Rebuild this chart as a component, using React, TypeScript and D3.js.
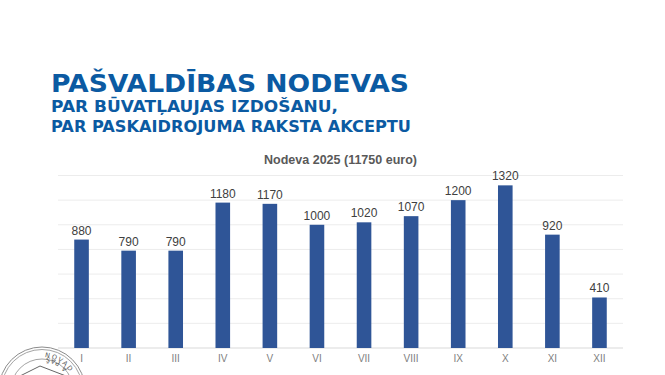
import { useEffect, useRef } from 'react'
import * as d3 from 'd3'

const months = ['I', 'II', 'III', 'IV', 'V', 'VI', 'VII', 'VIII', 'IX', 'X', 'XI', 'XII']
const fees = [880, 790, 790, 1180, 1170, 1000, 1020, 1070, 1200, 1320, 920, 410]
const gridTicks = [0, 200, 400, 600, 800, 1000, 1200, 1400]

export default function App() {
  const svgRef = useRef<SVGSVGElement>(null)

  useEffect(() => {
    if (!svgRef.current) return
    const svg = d3.select(svgRef.current)
    svg.selectAll('*').remove()

    const margin = { top: 175.5, left: 58, right: 42, bottom: 27 }
    const width = 665
    const height = 375
    const innerW = width - margin.left - margin.right
    const innerH = height - margin.top - margin.bottom

    // Header
    const head = svg.append('g').attr('font-family', '"DejaVu Sans", sans-serif').attr('fill', '#0b5aa2')
    head.append('text').attr('x', 51).attr('y', 92).attr('font-size', '24.5px').attr('font-weight', 'bold')
      .attr('textLength', 358).attr('lengthAdjust', 'spacingAndGlyphs')
      .text('PAŠVALDĪBAS NODEVAS')
    head.append('text').attr('x', 51).attr('y', 112).attr('font-size', '15.5px').attr('font-weight', 'bold')
      .attr('textLength', 287).attr('lengthAdjust', 'spacingAndGlyphs')
      .text('PAR BŪVATĻAUJAS IZDOŠANU,')
    head.append('text').attr('x', 51).attr('y', 132).attr('font-size', '15.5px').attr('font-weight', 'bold')
      .attr('textLength', 360).attr('lengthAdjust', 'spacingAndGlyphs')
      .text('PAR PASKAIDROJUMA RAKSTA AKCEPTU')

    const g = svg.append('g').attr('transform', `translate(${margin.left},${margin.top})`)

    const x = d3.scaleBand().domain(months).range([0, innerW]).paddingInner(0.69).paddingOuter(0.345)
    const y = d3.scaleLinear().domain([0, 1400]).range([innerH, 0])

    // Grid
    g.append('g')
      .selectAll('line')
      .data(gridTicks)
      .join('line')
      .attr('x1', 0).attr('x2', innerW)
      .attr('y1', d => y(d)).attr('y2', d => y(d))
      .attr('stroke', d => d === 0 ? '#d9d9d9' : '#ececec')
      .attr('stroke-width', 1)

    // Chart title
    svg.append('text')
      .attr('x', margin.left + innerW / 2).attr('y', 164)
      .attr('text-anchor', 'middle')
      .attr('font-family', '"Liberation Sans", Arial, sans-serif')
      .attr('font-size', '12.5px').attr('font-weight', 'bold').attr('fill', '#595959')
      .text('Nodeva 2025 (11750 euro)')

    // Bars
    g.selectAll('rect.bar')
      .data(fees)
      .join('rect')
      .attr('class', 'bar')
      .attr('x', (d, i) => x(months[i])!)
      .attr('y', d => y(d))
      .attr('width', x.bandwidth())
      .attr('height', d => innerH - y(d))
      .attr('fill', '#2f5597')

    // Value labels
    g.selectAll('text.val')
      .data(fees)
      .join('text')
      .attr('class', 'val')
      .attr('x', (d, i) => x(months[i])! + x.bandwidth() / 2)
      .attr('y', d => y(d) - 5)
      .attr('text-anchor', 'middle')
      .attr('font-family', '"Liberation Sans", Arial, sans-serif')
      .attr('font-size', '12px').attr('fill', '#404040')
      .text(d => d)

    // X axis labels
    g.selectAll('text.tick')
      .data(months)
      .join('text')
      .attr('class', 'tick')
      .attr('x', d => x(d)! + x.bandwidth() / 2)
      .attr('y', innerH + 14)
      .attr('text-anchor', 'middle')
      .attr('font-family', '"Liberation Sans", Arial, sans-serif')
      .attr('font-size', '10px').attr('fill', '#808080')
      .text(d => d)

    // Seal in the corner (cut by the page edge)
    const seal = svg.append('g').attr('transform', 'translate(42,390)').attr('fill', 'none').attr('stroke', '#8c8c8c')
    seal.append('circle').attr('r', 43).attr('stroke-width', 1)
    seal.append('circle').attr('r', 40.5).attr('stroke-width', 0.8)
    seal.append('circle').attr('r', 31).attr('stroke-width', 0.8)
    const arc = d3.arc()({ innerRadius: 33, outerRadius: 33, startAngle: -0.95, endAngle: 0.95 } as any)
    seal.append('path').attr('id', 'sealArc').attr('d', arc!.split('L')[0]).attr('stroke', 'none')
    seal.append('text').attr('fill', '#555').attr('stroke', 'none')
      .attr('font-family', '"DejaVu Sans", sans-serif').attr('font-size', '6.5px').attr('letter-spacing', '1.5px')
      .append('textPath').attr('href', '#sealArc').attr('startOffset', '50%').attr('text-anchor', 'middle')
      .text('NOVADA PAŠ')
    seal.append('path').attr('d', 'M-22,-14 L-2,-24 L24,-14 Z').attr('stroke', '#666').attr('stroke-width', 1)
    seal.append('rect').attr('x', -20).attr('y', -12).attr('width', 40).attr('height', 6).attr('fill', '#333').attr('stroke', 'none')
  }, [])

  return (
    <svg ref={svgRef} width={665} height={375}
      style={{ position: 'absolute', left: 0, top: 0, background: '#fff' }} />
  )
}
